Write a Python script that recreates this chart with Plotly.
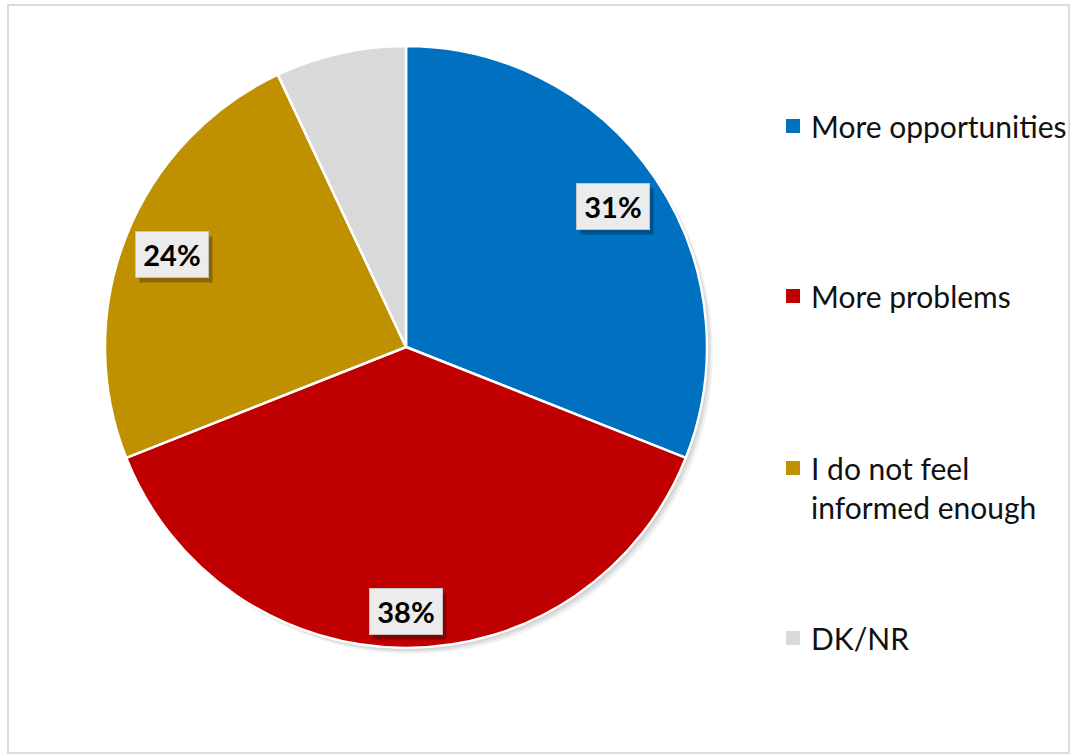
import math
import plotly.graph_objects as go

# ---- data ----
categories = ["More opportunities", "More problems", "I do not feel informed enough", "DK/NR"]
legend_lines = [["More opportunities"], ["More problems"], ["I do not feel", "informed enough"], ["DK/NR"]]
values = [31, 38, 24, 7]
label_text = ["31%", "38%", "24%", ""]
colors = ["#0070C0", "#C00000", "#BF9000", "#D9D9D9"]

# ---- layout constants ----
W, H = 1072, 756
cx, cy, R = 406, 347, 301
label_radius = [0.83, 0.88, 0.835, None]
legend_y = [[126], [296], [468, 507], [638]]
FONT = "Lato"

def px(x):
    return x / W

def py(y):
    return 1 - y / H

fig = go.Figure()
fig.add_trace(go.Pie(
    labels=categories, values=values, sort=False, direction="clockwise", rotation=0,
    marker=dict(colors=colors, line=dict(color="white", width=2.5)),
    textinfo="none", hoverinfo="label+percent", showlegend=False,
    domain=dict(x=[px(cx - R), px(cx + R)], y=[py(cy + R), py(cy - R)]),
))

shapes = []
annotations = []

# chart border
shapes.append(dict(type="rect", xref="paper", yref="paper", x0=px(8), x1=px(1069), y0=py(753), y1=py(5),
                   line=dict(color="#dcdcdc", width=2), layer="below"))
# pie shadow
for off, a in [(6, 0.05), (4, 0.07), (2, 0.08)]:
    shapes.append(dict(type="circle", xref="paper", yref="paper",
                       x0=px(cx - R + off), x1=px(cx + R + off), y0=py(cy + R + off), y1=py(cy - R + off),
                       fillcolor=f"rgba(0,0,0,{a})", line=dict(width=0), layer="below"))

# data labels
total = sum(values)
start = 0.0
for v, t, f in zip(values, label_text, label_radius):
    ang = start + v / total * 360 / 2
    start += v / total * 360
    if not t:
        continue
    r = math.radians(ang)
    x = cx + f * R * math.sin(r)
    y = cy - f * R * math.cos(r)
    annotations.append(dict(x=px(x), y=py(y), xref="paper", yref="paper", text=" ", showarrow=False,
                            xanchor="center", yanchor="middle",
                            width=72, height=45, xshift=4, yshift=-5, bgcolor="rgba(0,0,0,0.28)",
                            borderpad=0))
    annotations.append(dict(x=px(x), y=py(y), xref="paper", yref="paper", text=f"<b>{t}</b>", showarrow=False,
                            xanchor="center", yanchor="middle",
                            width=72, height=45, bgcolor="#ececec", bordercolor="#c4c4c4", borderwidth=1,
                            borderpad=0, font=dict(family=FONT, size=29, color="black")))

# legend
for lines, ys, c in zip(legend_lines, legend_y, colors):
    shapes.append(dict(type="rect", xref="paper", yref="paper", x0=px(786), x1=px(800),
                       y0=py(ys[0] + 7), y1=py(ys[0] - 7), fillcolor=c, line=dict(width=0)))
    for line, yy in zip(lines, ys):
        annotations.append(dict(x=px(809), y=py(yy), xref="paper", yref="paper", text=line, showarrow=False,
                                xanchor="left", yanchor="middle",
                                font=dict(family=FONT, size=30, color="#111111")))

fig.update_layout(
    width=W, height=H, margin=dict(l=0, r=0, t=0, b=0),
    paper_bgcolor="white", plot_bgcolor="white",
    shapes=shapes, annotations=annotations, showlegend=False,
)
fig.write_html("out.html", config={"displayModeBar": False},
               post_script="document.body.style.margin='0';")
